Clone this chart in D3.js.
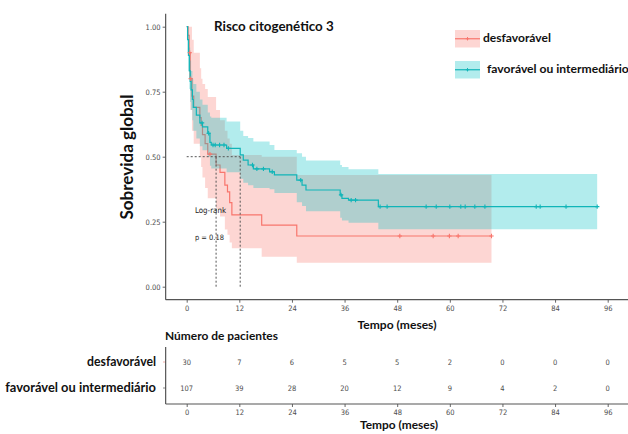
<!DOCTYPE html>
<html>
<head>
<meta charset="utf-8">
<script src="https://cdn.jsdelivr.net/npm/d3@7"></script>
<style>
body { margin: 0; background: #fff; }
.tick text { font-family: "Liberation Sans Narrow", "DejaVu Sans Condensed", sans-serif; font-size: 7.5px; fill: #4d4d4d; }
.tick line { stroke: #666; }
.lbl { font-family: Lato, "Open Sans", sans-serif; font-weight: bold; fill: #111; }
.small { font-family: "Liberation Sans Narrow", "DejaVu Sans Condensed", sans-serif; fill: #222; }
</style>
</head>
<body>
<div id="chart"></div>
<script>
// tick values
var months = [0, 12, 24, 36, 48, 60, 72, 84, 96];
var yTicks = [0, 0.25, 0.5, 0.75, 1];

// desfavorável: step times, survival, confidence band
var desfTime  = [0, 0.3, 0.55, 0.8, 1.2, 1.6, 3.0, 3.3, 3.6, 4.2, 4.8, 6.7, 7.6, 8.7, 9.3, 9.8, 10.3, 17.1, 25.1, 69.5];
var desfSurv  = [1.0, 0.967, 0.9, 0.8, 0.733, 0.69, 0.65, 0.62, 0.585, 0.55, 0.51, 0.468, 0.44, 0.391, 0.365, 0.323, 0.276, 0.237, 0.195, 0.195];
var desfLower = [1.0, 0.9, 0.8, 0.68, 0.6, 0.55, 0.5, 0.46, 0.42, 0.38, 0.34, 0.3, 0.27, 0.22, 0.2, 0.17, 0.148, 0.115, 0.092, 0.092];
var desfUpper = [1.0, 1.0, 1.0, 1.0, 0.95, 0.9, 0.84, 0.8, 0.78, 0.76, 0.73, 0.68, 0.64, 0.6, 0.57, 0.55, 0.507, 0.5, 0.43, 0.43];
var desfCens  = [0.7, 0.9, 5.3, 48.6, 56.2, 59.9, 61.9, 69.5];

// favorável ou intermediário
var favTime  = [0, 0.2, 0.4, 0.6, 0.8, 1.0, 1.3, 1.5, 2.2, 3.0, 3.6, 4.8, 5.3, 5.6, 9.1, 12.2, 12.9, 14.0, 15.2, 18.9, 20.0, 25.1, 26.3, 27.2, 35.0, 35.4, 36.9, 43.7, 93.6];
var favSurv  = [1.0, 0.95, 0.89, 0.83, 0.79, 0.757, 0.72, 0.69, 0.66, 0.63, 0.615, 0.59, 0.555, 0.545, 0.532, 0.507, 0.487, 0.468, 0.453, 0.442, 0.43, 0.41, 0.391, 0.372, 0.353, 0.34, 0.333, 0.308, 0.308];
var favLower = [1.0, 0.9, 0.83, 0.76, 0.71, 0.68, 0.64, 0.6, 0.57, 0.54, 0.525, 0.5, 0.465, 0.455, 0.44, 0.415, 0.4, 0.39, 0.38, 0.375, 0.36, 0.325, 0.31, 0.29, 0.265, 0.255, 0.246, 0.221, 0.221];
var favUpper = [1.0, 1.0, 0.97, 0.92, 0.87, 0.83, 0.8, 0.78, 0.75, 0.72, 0.7, 0.67, 0.655, 0.65, 0.635, 0.6, 0.58, 0.572, 0.558, 0.545, 0.526, 0.513, 0.5, 0.485, 0.468, 0.46, 0.452, 0.433, 0.433];
var favCens  = [3.5, 5.0, 6.0, 6.5, 7.5, 8.5, 9.5, 15.0, 16.0, 17.5, 19.5, 26.0, 35.2, 37.5, 38.5, 44.1, 45.7, 54.6, 56.9, 60.0, 62.5, 63.5, 65.7, 68.0, 79.7, 80.6, 86.5, 93.6];

// median survival times
var medians = [6.7, 12.2];

// number at risk
var riskDesf = [30, 7, 6, 5, 5, 2, 0, 0, 0];
var riskFav  = [107, 39, 28, 20, 12, 9, 4, 2, 0];

var groups = ["desfavorável", "favorável ou intermediário"];
var lineColors = ["#F8766D", "#10b5b8"];
var bandColors = ["#F8766D", "#00BFC4"];

var svg = d3.select("#chart").append("svg")
    .attr("width", 628)
    .attr("height", 434);

var x = d3.scaleLinear().domain([0, 96]).range([186.7, 607.7]);
var y = d3.scaleLinear().domain([0, 1]).range([286.7, 26.7]);

function fit(sel, w) {
    var len = sel.node().getComputedTextLength();
    var fs = parseFloat(sel.attr("font-size"));
    sel.attr("font-size", fs * w / len);
    return sel;
}

function rows(time, surv, lower, upper) {
    return time.map(function(t, i) {
        return {t: t, s: surv[i], lo: lower[i], hi: upper[i]};
    });
}
function survAt(time, surv, t) {
    var i = d3.bisectRight(time, t) - 1;
    return surv[Math.max(0, i)];
}

var desfData = rows(desfTime, desfSurv, desfLower, desfUpper);
var favData = rows(favTime, favSurv, favLower, favUpper);

var area = d3.area().curve(d3.curveStepAfter)
    .x(function(d) { return x(d.t); })
    .y0(function(d) { return y(d.lo); })
    .y1(function(d) { return y(d.hi); });
var line = d3.line().curve(d3.curveStepAfter)
    .x(function(d) { return x(d.t); })
    .y(function(d) { return y(d.s); });

var plot = svg.append("g");

// pink band and red curve, then cyan band on top
plot.append("path").datum(desfData).attr("d", area)
    .attr("fill", bandColors[0]).attr("fill-opacity", 0.3);
plot.append("path").datum(desfData).attr("d", line)
    .attr("fill", "none").attr("stroke", lineColors[0]).attr("stroke-width", 1.2);
plot.append("path").datum(favData).attr("d", area)
    .attr("fill", bandColors[1]).attr("fill-opacity", 0.3);
plot.append("path").datum(favData).attr("d", line)
    .attr("fill", "none").attr("stroke", lineColors[1]).attr("stroke-width", 1.2);

// censor marks
function drawCens(times, time, surv, color) {
    var g = plot.append("g");
    times.forEach(function(t) {
        var cx = x(t), cy = y(survAt(time, surv, t));
        g.append("path")
            .attr("d", "M" + (cx - 2.2) + "," + cy + "h4.4M" + cx + "," + (cy - 2.2) + "v4.4")
            .attr("stroke", color).attr("stroke-width", 1.1);
    });
}
drawCens(desfCens, desfTime, desfSurv, lineColors[0]);
drawCens(favCens, favTime, favSurv, lineColors[1]);

// median lines
plot.append("line")
    .attr("x1", x(0)).attr("x2", x(d3.max(medians)))
    .attr("y1", y(0.5)).attr("y2", y(0.5))
    .attr("stroke", "#555").attr("stroke-width", 1).attr("stroke-dasharray", "2,2");
medians.forEach(function(m) {
    plot.append("line")
        .attr("x1", x(m)).attr("x2", x(m))
        .attr("y1", y(0.5)).attr("y2", y(0))
        .attr("stroke", "#555").attr("stroke-width", 1).attr("stroke-dasharray", "2,2");
});

// axes
var xAxis = svg.append("g")
    .attr("transform", "translate(0," + y(-0.05) + ")")
    .call(d3.axisBottom(x).tickValues(months).tickFormat(d3.format("d")).tickSize(3).tickPadding(3));
xAxis.select(".domain").remove();
svg.append("line")
    .attr("x1", x(-4.8)).attr("x2", x(100.8))
    .attr("y1", y(-0.05)).attr("y2", y(-0.05))
    .attr("stroke", "#555").attr("stroke-width", 1.2);

var yAxis = svg.append("g")
    .attr("transform", "translate(" + x(-4.8) + ",0)")
    .call(d3.axisLeft(y).tickValues(yTicks).tickFormat(d3.format(".2f")).tickSize(3).tickPadding(2));
yAxis.select(".domain").remove();
svg.append("line")
    .attr("x1", x(-4.8)).attr("x2", x(-4.8))
    .attr("y1", y(1.05)).attr("y2", y(-0.05))
    .attr("stroke", "#555").attr("stroke-width", 1.2);

// titles
fit(svg.append("text").attr("class", "lbl").attr("x", 214).attr("y", 31)
    .attr("font-size", 14).text("Risco citogenético 3"), 120);
fit(svg.append("text").attr("class", "lbl").attr("x", 397).attr("y", 329)
    .attr("text-anchor", "middle").attr("font-size", 12).text("Tempo (meses)"), 79);
fit(svg.append("text").attr("class", "lbl")
    .attr("transform", "translate(133,157) rotate(-90)")
    .attr("text-anchor", "middle").attr("font-size", 16).text("Sobrevida global"), 125);

// log-rank
fit(svg.append("text").attr("class", "small").attr("x", 195).attr("y", 213)
    .attr("font-size", 9).text("Log-rank"), 31);
fit(svg.append("text").attr("class", "small").attr("x", 195).attr("y", 240)
    .attr("font-size", 9).text("p = 0.18"), 29);

// legend
var legY = [30, 61];
groups.forEach(function(g, i) {
    var lg = svg.append("g").attr("transform", "translate(455," + legY[i] + ")");
    lg.append("rect").attr("width", 25).attr("height", 17.5)
        .attr("fill", bandColors[i]).attr("fill-opacity", 0.3);
    lg.append("line").attr("x1", 0).attr("x2", 25).attr("y1", 8.75).attr("y2", 8.75)
        .attr("stroke", lineColors[i]).attr("stroke-width", 1.2);
    lg.append("path").attr("d", "M10.8,8.75h3.4M12.5,7.05v3.4")
        .attr("stroke", lineColors[i]).attr("stroke-width", 1);
});
fit(svg.append("text").attr("class", "lbl").attr("x", 483).attr("y", 42)
    .attr("font-size", 12).text(groups[0]), 68);
fit(svg.append("text").attr("class", "lbl").attr("x", 487).attr("y", 73)
    .attr("font-size", 12).text(groups[1]), 142);

// risk table
var yt = d3.scalePoint().domain(groups).range([362, 388]);
var riskRows = [riskDesf, riskFav];

fit(svg.append("text").attr("class", "lbl").attr("x", 165).attr("y", 340)
    .attr("font-size", 12).text("Número de pacientes"), 113);

groups.forEach(function(g, i) {
    fit(svg.append("text").attr("class", "lbl").attr("x", 156).attr("y", yt(g) + 4)
        .attr("text-anchor", "end").attr("font-size", 12).text(g), i === 0 ? 69 : 151);
    svg.append("line").attr("x1", 163).attr("x2", 166)
        .attr("y1", yt(g)).attr("y2", yt(g))
        .attr("stroke", i === 0 ? "#f3b0ab" : "#888");
    svg.append("g").selectAll("text")
        .data(riskRows[i])
        .enter()
        .append("text")
        .attr("class", "small")
        .attr("x", function(d, j) { return x(months[j]); })
        .attr("y", yt(g) + 3)
        .attr("text-anchor", "middle")
        .attr("font-size", 7.5)
        .style("fill", "#4d4d4d")
        .text(function(d) { return d; });
});

var tAxis = svg.append("g")
    .attr("transform", "translate(0,404)")
    .call(d3.axisBottom(x).tickValues(months).tickFormat(d3.format("d")).tickSize(3).tickPadding(3));
tAxis.select(".domain").remove();
svg.append("line")
    .attr("x1", x(-4.8)).attr("x2", x(100.8)).attr("y1", 404).attr("y2", 404)
    .attr("stroke", "#555").attr("stroke-width", 1.2);
svg.append("line")
    .attr("x1", x(-4.8)).attr("x2", x(-4.8)).attr("y1", 347).attr("y2", 404)
    .attr("stroke", "#555").attr("stroke-width", 1.2);

fit(svg.append("text").attr("class", "lbl").attr("x", 399).attr("y", 429)
    .attr("text-anchor", "middle").attr("font-size", 12).text("Tempo (meses)"), 78);
</script>
</body>
</html>
